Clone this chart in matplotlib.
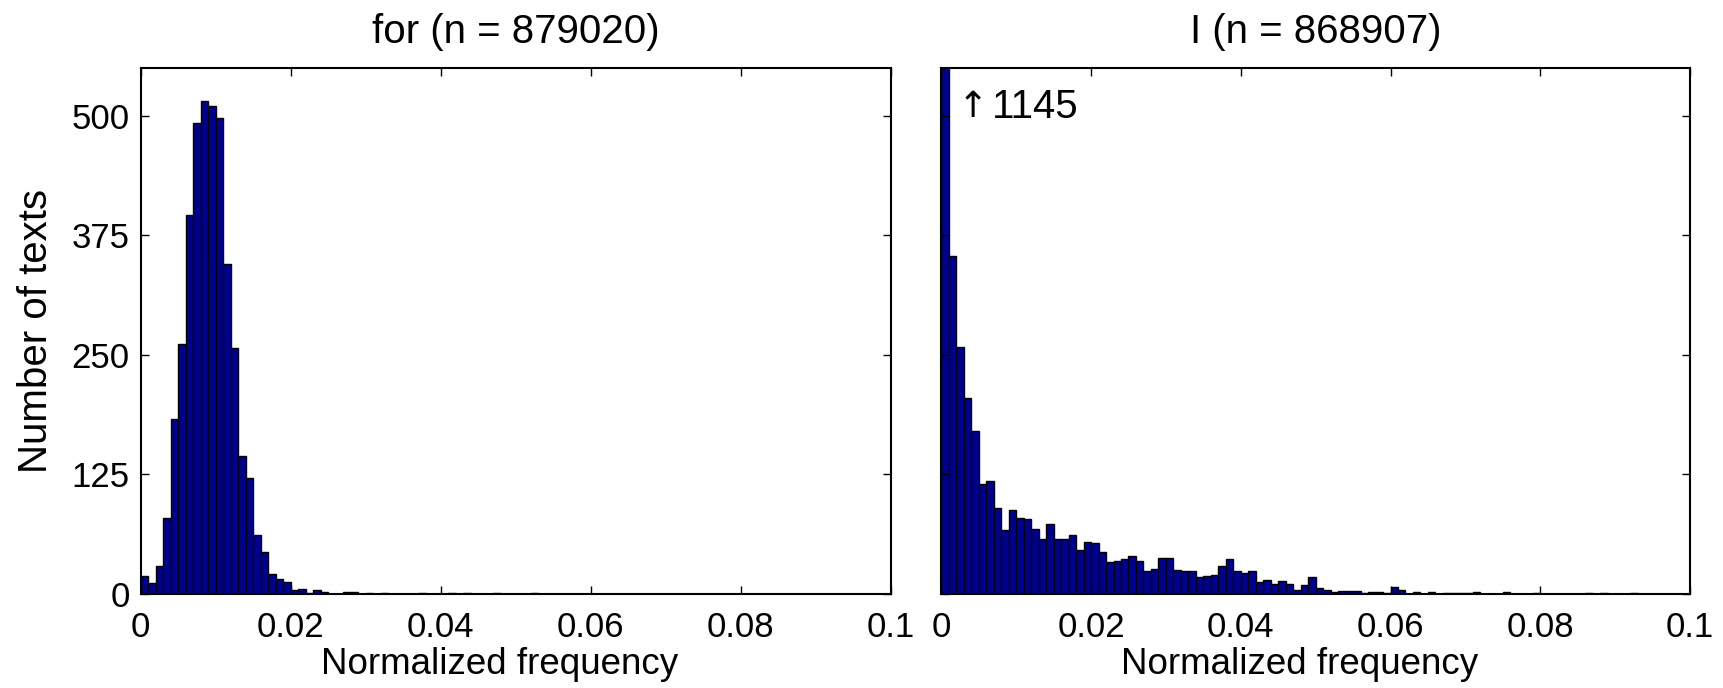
import numpy as np
import matplotlib
matplotlib.use("Agg")
import matplotlib.pyplot as plt

plt.rcParams['font.family'] = ['Liberation Sans', 'DejaVu Sans']

# ---- data (counts per bin, bins of width 0.001 from 0 to 0.1) ----
bin_edges = np.linspace(0.0, 0.1, 101)

for_counts = [19, 12, 29, 79, 183, 261, 396, 493, 515, 510,
              498, 345, 257, 144, 121, 62, 44, 21, 16, 13,
              4, 5, 1, 4, 2, 0, 0, 2, 2, 0,
              1, 0, 1, 0, 0, 0, 0, 1, 0, 0,
              0, 1, 0, 1, 0, 0, 0, 1, 0, 0,
              0, 0, 1, 0, 0, 0, 0, 0, 0, 0,
              0, 0, 0, 0, 0, 0, 0, 0, 0, 0,
              0, 0, 0, 0, 0, 0, 0, 0, 0, 0,
              0, 0, 0, 0, 0, 0, 0, 0, 0, 0,
              0, 0, 0, 0, 0, 0, 0, 0, 0, 0]

i_counts = [1145, 353, 258, 205, 170, 115, 118, 90, 67, 88,
            79, 78, 68, 57, 73, 57, 58, 62, 46, 54,
            53, 44, 33, 34, 37, 40, 35, 24, 26, 38,
            38, 25, 24, 24, 18, 19, 20, 29, 37, 24,
            22, 24, 13, 15, 10, 14, 10, 4, 9, 18,
            6, 4, 2, 3, 3, 3, 1, 2, 2, 1,
            7, 4, 0, 2, 0, 2, 0, 1, 1, 1,
            1, 2, 0, 0, 0, 2, 0, 0, 0, 1,
            0, 0, 0, 0, 0, 0, 1, 0, 1, 0,
            0, 0, 1, 0, 0, 0, 0, 0, 0, 0]

titles = ["for (n = 879020)", "I (n = 868907)"]
xticks = [0, 0.02, 0.04, 0.06, 0.08, 0.1]
xticklabels = ["0", "0.02", "0.04", "0.06", "0.08", "0.1"]
yticks = [0, 125, 250, 375, 500]
ylim_top = 550
overflow_value = "1145"

bar_color = "#00008F"
fs_tick = 25
fs_title = 29
fs_xlabel = 26.5
fs_ylabel = 29

fig = plt.figure(figsize=(17.24, 6.88), dpi=100)
ax1 = fig.add_axes([140.7 / 1724, 94 / 688, 750 / 1724, 526 / 688])
ax2 = fig.add_axes([941.3 / 1724, 94 / 688, 748.7 / 1724, 526 / 688])

for ax, counts, title in [(ax1, for_counts, titles[0]), (ax2, i_counts, titles[1])]:
    ax.bar(bin_edges[:-1], counts, width=np.diff(bin_edges), align='edge',
           color=bar_color, edgecolor='black', linewidth=1.0)
    ax.set_xlim(0, 0.1)
    ax.set_ylim(0, ylim_top)
    ax.set_xticks(xticks)
    ax.set_xticklabels(xticklabels, fontsize=fs_tick)
    ax.set_yticks(yticks)
    ax.tick_params(direction='in', length=6, width=1, top=True, right=True,
                   labelsize=fs_tick)
    ax.tick_params(axis='x', pad=12)
    ax.tick_params(axis='y', pad=8)
    for s in ax.spines.values():
        s.set_linewidth(1.5)
    ax.set_title(title, fontsize=fs_title, pad=18)
    ax.set_xlabel("Normalized frequency", fontsize=fs_xlabel)
    ax.xaxis.set_label_coords(0.478, -0.1)

ax1.set_ylabel("Number of texts", fontsize=fs_ylabel, labelpad=12)
ax2.set_yticklabels([])

ax2.text(0.0022, 509, "\u2191", fontsize=26, family='DejaVu Sans',
         ha='left', va='center')
ax2.text(0.0068, 509, overflow_value, fontsize=29, ha='left', va='center')

fig.savefig("out.png", dpi=100)
